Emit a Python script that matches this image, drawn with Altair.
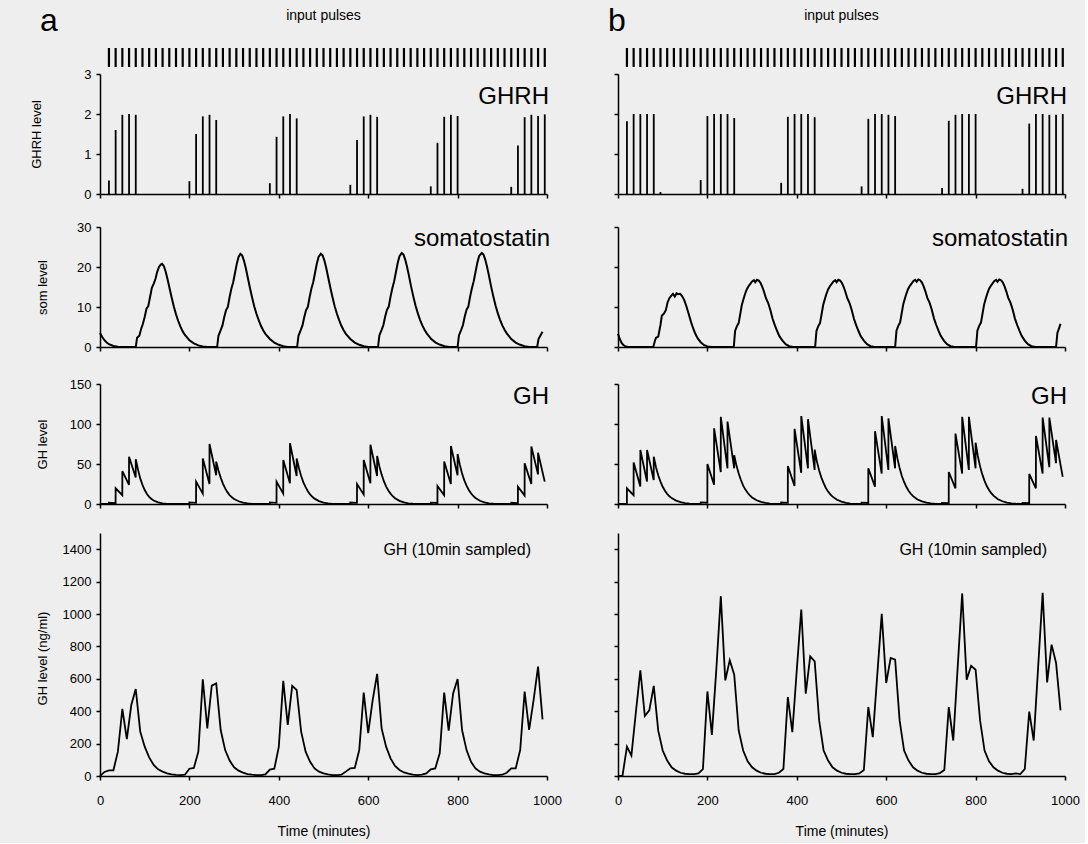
import altair as alt
import pandas as pd

FONT = "Liberation Sans"
W = 447

# ---------------- data ----------------
PULSE_T = [20, 35, 50, 65, 80, 95, 110, 125, 140, 155, 170, 185, 200, 215, 230, 245, 260, 275,
           290, 305, 320, 335, 350, 365, 380, 395, 410, 425, 440, 455, 470, 485, 500, 515, 530,
           545, 560, 575, 590, 605, 620, 635, 650, 665, 680, 695, 710, 725, 740, 755, 770, 785,
           800, 815, 830, 845, 860, 875, 890, 905, 920, 935, 950, 965, 980, 995]

GHRH_A_T = [20, 35, 50, 65, 80, 200, 215, 230, 245, 260, 380, 395, 410, 425, 440,
            560, 575, 590, 605, 620, 740, 755, 770, 785, 800, 920, 935, 950, 965, 980, 995]
GHRH_A_V = [0.34, 1.6, 1.98, 2.0, 1.98, 0.32, 1.5, 1.94, 1.98, 1.85, 0.27, 1.43, 1.94, 2.0, 1.89,
            0.23, 1.35, 1.94, 1.98, 1.93, 0.19, 1.28, 1.93, 1.98, 1.95, 0.18, 1.21, 1.92, 1.98, 1.95, 1.99]

GHRH_B_T = [20, 35, 50, 65, 80, 95, 185, 200, 215, 230, 245, 260, 365, 380, 395, 410, 425, 440,
            545, 560, 575, 590, 605, 620, 725, 740, 755, 770, 785, 800, 905, 920, 935, 950, 965, 980, 995]
GHRH_B_V = [1.82, 2.0, 2.0, 2.0, 2.0, 0.05, 0.35, 1.95, 2.0, 2.0, 2.0, 1.9, 0.28, 1.93, 2.0, 2.0, 2.0, 1.92,
            0.19, 1.88, 2.0, 2.0, 1.98, 1.95, 0.15, 1.83, 1.98, 2.0, 2.0, 2.0, 0.13, 1.76, 2.0, 2.0, 1.98, 1.98, 2.0]

SOM_A = [(0, 3.5), (5, 2.5), (10, 1.7), (15, 1.1), (20, 0.7), (30, 0.25), (40, 0.05), (50, 0), (80, 0),
         (83, 2.3), (88, 2.8), (92, 4.5), (96, 5.8), (100, 7.5), (104, 9.6), (108, 10.2), (112, 12.5),
         (116, 14.8), (120, 15.8), (124, 17.0), (128, 18.8), (132, 20.0), (136, 20.6), (139, 20.8),
         (143, 20.2), (147, 18.8), (151, 17.0), (155, 15.0), (160, 12.5), (165, 10.2), (170, 8.2),
         (175, 6.5), (180, 5.1), (185, 3.9), (190, 3.0), (200, 1.7), (210, 0.9), (220, 0.4), (230, 0.15),
         (240, 0), (262, 0),
         (265, 2.8), (270, 4.2), (274, 5.4), (278, 7.5), (282, 9.2), (286, 10.0), (290, 12.5), (294, 14.6),
         (298, 16.2), (302, 18.5), (306, 20.8), (310, 22.5), (314, 23.3), (318, 22.9), (322, 21.6),
         (326, 19.8), (330, 17.7), (335, 15.0), (340, 12.5), (345, 10.2), (350, 8.3), (355, 6.7),
         (360, 5.3), (365, 4.2), (370, 3.3), (380, 2.0), (390, 1.1), (400, 0.55), (410, 0.2), (420, 0),
         (441, 0),
         (444, 2.8), (449, 4.2), (453, 5.4), (457, 7.5), (461, 9.2), (465, 10.0), (469, 12.5), (473, 14.6),
         (477, 16.2), (481, 18.5), (485, 20.8), (489, 22.5), (494, 23.3), (498, 22.9), (502, 21.6),
         (506, 19.8), (510, 17.7), (515, 15.0), (520, 12.5), (525, 10.2), (530, 8.3), (535, 6.7),
         (540, 5.3), (545, 4.2), (550, 3.3), (560, 2.0), (570, 1.1), (580, 0.55), (590, 0.2), (600, 0),
         (622, 0),
         (625, 2.9), (630, 4.3), (634, 5.5), (638, 7.6), (642, 9.3), (646, 10.1), (650, 12.6), (654, 14.7),
         (658, 16.4), (662, 18.7), (666, 21.0), (670, 22.7), (675, 23.5), (679, 23.1), (683, 21.8),
         (687, 20.0), (691, 17.9), (696, 15.1), (701, 12.6), (706, 10.3), (711, 8.4), (716, 6.8),
         (721, 5.4), (726, 4.3), (731, 3.4), (741, 2.0), (751, 1.1), (761, 0.55), (771, 0.2), (781, 0),
         (800, 0),
         (803, 2.9), (808, 4.3), (812, 5.5), (816, 7.6), (820, 9.3), (824, 10.1), (828, 12.6), (832, 14.7),
         (836, 16.4), (840, 18.7), (844, 21.0), (848, 22.7), (854, 23.5), (858, 23.1), (862, 21.8),
         (866, 20.0), (870, 17.9), (875, 15.1), (880, 12.6), (885, 10.3), (890, 8.4), (895, 6.8),
         (900, 5.4), (905, 4.3), (910, 3.4), (920, 2.0), (930, 1.1), (940, 0.55), (950, 0.2), (960, 0),
         (978, 0), (981, 2.0), (986, 3.0), (990, 3.8)]

SOM_B = [(0, 3.3), (4, 2.0), (8, 1.0), (12, 0.5), (16, 0.2), (22, 0), (79, 0),
         (82, 1.3), (85, 2.3), (90, 2.6), (95, 5.5), (98, 7.8), (103, 8.4), (107, 9.2), (111, 11.2),
         (115, 12.2), (119, 12.8), (123, 13.3), (127, 12.6), (131, 13.4), (135, 13.2), (139, 13.3),
         (143, 12.8), (148, 11.8), (153, 10.2), (158, 8.3), (163, 6.4), (168, 4.7), (173, 3.3),
         (178, 2.2), (185, 1.2), (192, 0.5), (200, 0.15), (210, 0), (259, 0),
         (262, 4.0), (266, 5.2), (270, 6.0), (273, 7.9), (277, 10.5), (280, 11.7), (284, 13.2), (288, 14.4),
         (292, 15.2), (296, 15.8), (300, 16.4), (304, 16.7), (307, 16.2), (311, 16.8), (315, 16.6),
         (319, 16.0), (323, 15.0), (327, 13.7), (331, 12.2), (336, 11.0), (341, 9.2), (346, 7.0),
         (351, 5.4), (356, 4.0), (361, 2.7), (368, 1.6), (375, 0.7), (383, 0.2), (392, 0), (441, 0),
         (444, 4.0), (448, 5.2), (452, 6.0), (455, 7.9), (459, 10.5), (462, 11.7), (466, 13.2), (470, 14.4),
         (474, 15.2), (478, 15.8), (482, 16.4), (486, 16.7), (489, 16.2), (493, 16.8), (497, 16.6),
         (501, 16.0), (505, 15.0), (509, 13.7), (513, 12.2), (518, 11.0), (523, 9.2), (528, 7.0),
         (533, 5.4), (538, 4.0), (543, 2.7), (550, 1.6), (557, 0.7), (565, 0.2), (574, 0), (620, 0),
         (623, 4.1), (627, 5.3), (631, 6.1), (634, 8.0), (638, 10.6), (641, 11.8), (645, 13.3), (649, 14.5),
         (653, 15.3), (657, 15.9), (661, 16.5), (665, 16.8), (668, 16.3), (672, 16.9), (676, 16.7),
         (680, 16.1), (684, 15.1), (688, 13.8), (692, 12.3), (697, 11.1), (702, 9.3), (707, 7.1),
         (712, 5.5), (717, 4.1), (722, 2.8), (729, 1.6), (736, 0.7), (744, 0.2), (753, 0), (801, 0),
         (804, 4.1), (808, 5.3), (812, 6.1), (815, 8.0), (819, 10.6), (822, 11.8), (826, 13.3), (830, 14.5),
         (834, 15.3), (838, 15.9), (842, 16.5), (846, 16.8), (849, 16.3), (853, 16.9), (857, 16.7),
         (861, 16.1), (865, 15.1), (869, 13.8), (873, 12.3), (878, 11.1), (883, 9.3), (888, 7.1),
         (893, 5.5), (898, 4.1), (903, 2.8), (910, 1.6), (917, 0.7), (925, 0.2), (934, 0), (980, 0),
         (983, 3.5), (987, 4.8), (990, 5.8)]

GH_A = [(0, 0), (19.9, 0), (20, 1.5), (34.9, 1.2), (35, 19.6), (49.9, 11), (50, 41), (64.9, 24), (65, 59),
        (79.9, 33), (80, 56), (85, 43), (90, 32), (95, 24), (100, 17.5), (105, 12.5), (110, 9), (115, 6.3),
        (120, 4.4), (130, 2), (140, 0.8), (150, 0.2), (160, 0), (199.9, 0),
        (200, 2.0), (214.9, 1.5), (215, 28), (229.9, 13), (230, 57), (244.9, 25), (245, 75), (259.9, 36),
        (260, 53), (265, 42), (270, 33), (275, 25.5), (280, 19.5), (285, 14.8), (290, 11.2), (295, 8.4),
        (300, 6.3), (310, 3.4), (320, 1.7), (330, 0.7), (340, 0.2), (350, 0), (379.9, 0),
        (380, 2.0), (394.9, 1.5), (395, 28), (409.9, 13), (410, 55), (424.9, 26), (425, 76), (439.9, 35),
        (440, 57), (445, 45), (450, 35), (455, 27), (460, 21), (465, 16), (470, 12), (475, 9), (480, 6.7),
        (490, 3.6), (500, 1.8), (510, 0.8), (520, 0.2), (530, 0), (559.9, 0),
        (560, 1.8), (574.9, 1.4), (575, 25), (589.9, 12), (590, 55), (604.9, 26), (605, 74), (619.9, 35),
        (620, 60), (625, 47), (630, 37), (635, 28.5), (640, 22), (645, 17), (650, 13), (655, 9.7),
        (660, 7.2), (670, 3.9), (680, 2), (690, 0.9), (700, 0.3), (710, 0), (739.9, 0),
        (740, 1.6), (754.9, 1.3), (755, 22.5), (769.9, 11), (770, 53), (784.9, 25), (785, 72.5), (799.9, 36),
        (800, 62.5), (805, 49), (810, 38), (815, 29.5), (820, 23), (825, 17.6), (830, 13.4), (835, 10),
        (840, 7.5), (850, 4), (860, 2), (870, 0.9), (880, 0.3), (890, 0), (919.9, 0),
        (920, 1.5), (934.9, 1.2), (935, 21.7), (949.9, 10.5), (950, 51), (964.9, 25), (965, 72), (979.9, 37),
        (980, 64), (994.9, 28)]

GH_B = [(0, 0), (19.9, 0), (20, 19.6), (34.9, 11), (35, 52), (49.9, 22), (50, 67.5), (64.9, 28), (65, 67.5),
        (79.9, 30), (80, 59), (85, 46), (90, 36), (95, 28), (100, 21.5), (105, 16.5), (110, 12.7),
        (115, 9.7), (120, 7.4), (130, 4.3), (140, 2.3), (150, 1.1), (160, 0.4), (170, 0), (184.9, 0),
        (185, 2.0), (199.9, 1.6), (200, 50), (214.9, 24), (215, 94.6), (229.9, 40), (230, 109), (244.9, 44.6),
        (245, 103), (259.9, 44.6), (260, 61), (265, 48), (270, 38), (275, 30), (280, 23), (285, 18),
        (290, 14), (295, 10.7), (300, 8.2), (310, 4.7), (320, 2.6), (330, 1.3), (340, 0.5), (350, 0),
        (364.9, 0),
        (365, 1.8), (379.9, 1.4), (380, 47.5), (394.9, 22.5), (395, 94), (409.9, 39), (410, 110), (424.9, 44.6),
        (425, 106), (439.9, 42.5), (440, 68), (445, 53), (450, 42), (455, 33), (460, 26), (465, 20),
        (470, 15.5), (475, 12), (480, 9.2), (490, 5.3), (500, 3), (510, 1.5), (520, 0.6), (530, 0),
        (544.9, 0),
        (545, 1.6), (559.9, 1.3), (560, 44.6), (574.9, 21.7), (575, 91), (589.9, 38), (590, 110), (604.9, 42.5),
        (605, 107), (619.9, 44.6), (620, 72.5), (625, 57), (630, 45), (635, 35), (640, 27.5), (645, 21.5),
        (650, 16.5), (655, 12.8), (660, 9.8), (670, 5.6), (680, 3.2), (690, 1.6), (700, 0.7), (710, 0.2),
        (720, 0), (724.9, 0),
        (725, 1.4), (739.9, 1.1), (740, 40), (754.9, 19.6), (755, 88), (769.9, 38), (770, 109), (784.9, 42.5),
        (785, 109), (799.9, 44.6), (800, 76.7), (805, 60), (810, 47), (815, 37), (820, 29), (825, 22.5),
        (830, 17.5), (835, 13.5), (840, 10.4), (850, 6), (860, 3.4), (870, 1.7), (880, 0.8), (890, 0.3),
        (900, 0), (904.9, 0),
        (905, 1.3), (919.9, 1.0), (920, 37.5), (934.9, 19.6), (935, 85), (949.9, 38), (950, 108), (964.9, 46),
        (965, 108), (979.9, 51), (980, 80), (994.9, 34)]

SAMPLE_T = list(range(0, 1000, 10))
SAMP_A = [0, 25, 35, 35, 150, 414, 228, 438, 537, 274,
          181, 115, 68, 41, 27, 16, 10, 7, 6, 8,
          45, 50, 150, 597, 294, 558, 572, 284, 160, 95,
          54, 33, 21, 12, 8, 6, 6, 10, 40, 45,
          180, 587, 315, 556, 531, 274, 150, 88, 47, 27,
          16, 10, 6, 6, 8, 27, 47, 50, 160, 515,
          264, 469, 630, 294, 181, 109, 62, 37, 22, 14,
          9, 6, 8, 16, 41, 47, 140, 515, 280, 510,
          599, 284, 160, 88, 47, 27, 16, 10, 6, 6,
          8, 20, 47, 47, 160, 521, 284, 469, 675, 350]
SAMP_B = [0, 0, 181, 126, 394, 652, 370, 405, 556, 280,
          157, 95, 54, 33, 20, 14, 12, 12, 16, 43,
          522, 254, 660, 1110, 590, 714, 625, 281, 157, 91,
          54, 33, 20, 14, 12, 12, 20, 43, 487, 270,
          656, 1028, 508, 739, 708, 343, 157, 95, 54, 33,
          20, 14, 12, 12, 16, 37, 425, 240, 623, 1001,
          574, 729, 718, 343, 157, 95, 54, 33, 20, 14,
          12, 12, 18, 37, 425, 219, 675, 1127, 595, 680,
          656, 343, 157, 91, 54, 33, 20, 14, 12, 16,
          12, 43, 398, 219, 677, 1131, 578, 811, 698, 405]

XT = [0, 200, 400, 600, 800, 1000]


def xs():
    return alt.Scale(domain=[0, 1000], nice=False, zero=False)


def x_axis(bottom):
    if bottom:
        return alt.Axis(values=XT, title="Time (minutes)", labelPadding=14, titleFontSize=14,
                        titlePadding=17, format="d", labelFlush=False, labelOverlap=False)
    return alt.Axis(values=XT, labels=False, title=None)


def y_axis(vals, title, left, tx, ty):
    if left:
        return alt.Axis(values=vals, title=title, titleX=tx, titleY=ty, format="d")
    return alt.Axis(values=vals, labels=False, title=None)


def label(text, x, y, size, align="right"):
    return alt.Chart(pd.DataFrame({"s": [text]})).mark_text(
        font=FONT, fontSize=size, align=align, baseline="alphabetic", color="black"
    ).encode(x=alt.value(x), y=alt.value(y), text="s:N")


def pulses_panel(letter, ldx):
    rules = alt.Chart(pd.DataFrame({"t": PULSE_T})).mark_rule(color="black", strokeWidth=2.2).encode(
        x=alt.X("t:Q", scale=xs(), axis=None), y=alt.value(0), y2=alt.value(19))
    return alt.layer(rules, label("input pulses", W / 2, -28, 14, "center"),
                     label(letter, ldx, -17, 32, "left")).properties(width=W, height=19)


def ghrh_panel(t, v, left):
    df = pd.DataFrame({"t": t, "v": v})
    rules = alt.Chart(df).mark_rule(color="black", strokeWidth=1.8).encode(
        x=alt.X("t:Q", scale=xs(), axis=x_axis(False)),
        y=alt.Y("v:Q", scale=alt.Scale(domain=[0, 3], nice=False),
                axis=y_axis([0, 1, 2, 3], "GHRH level", left, -57, 60)),
        y2=alt.datum(0))
    return alt.layer(rules, label("GHRH", W + 2, 30, 24)).properties(width=W, height=120)


def line_panel(pairs, dom, vals, title, left, name, nx, ny, nsize, h, bottom, ty, sw=2.0):
    df = pd.DataFrame({"t": [p[0] for p in pairs], "v": [p[1] for p in pairs]})
    line = alt.Chart(df).mark_line(color="black", strokeWidth=sw).encode(
        x=alt.X("t:Q", scale=xs(), axis=x_axis(bottom)),
        y=alt.Y("v:Q", scale=alt.Scale(domain=dom, nice=False),
                axis=y_axis(vals, title, left, -51, ty)))
    return alt.layer(line, label(name, nx, ny, nsize)).properties(width=W, height=h)


def column(left, letter, ldx, ghrh_t, ghrh_v, som, gh, samp, samp_dx):
    p0 = pulses_panel(letter, ldx)
    p1 = ghrh_panel(ghrh_t, ghrh_v, left)
    p2 = line_panel(som, [0, 30], [0, 10, 20, 30], "som level", left, "somatostatin",
                    W + 3, 19, 24, 120, False, 60)
    p3 = line_panel(gh, [0, 150], [0, 50, 100, 150], "GH level", left, "GH",
                    W + 2, 20, 24, 120, False, 60, sw=1.8)
    p4 = line_panel(list(zip(SAMPLE_T, samp)), [0, 1500], list(range(0, 1401, 200)),
                    "GH level (ng/ml)", left, "GH (10min sampled)",
                    W - samp_dx, 22, 16, 243, True, 125, sw=1.8)
    c4 = alt.vconcat(p3, p4, spacing=29, bounds="flush").resolve_scale(x="independent", y="independent")
    c3 = alt.vconcat(p2, c4, spacing=37, bounds="flush").resolve_scale(x="independent", y="independent")
    c2 = alt.vconcat(p1, c3, spacing=33, bounds="flush").resolve_scale(x="independent", y="independent")
    c1 = alt.vconcat(p0, c2, spacing=7, bounds="flush").resolve_scale(x="independent", y="independent")
    return c1


col_a = column(True, "a", -60, GHRH_A_T, GHRH_A_V, SOM_A, GH_A, SAMP_A, 16)
col_b = column(False, "b", -10, GHRH_B_T, GHRH_B_V, SOM_B, GH_B, SAMP_B, 18)

# with flush bounds the nested column counts as zero width, so the gap covers panel a's width too
chart = alt.hconcat(col_a, col_b, spacing=71 + W, bounds="flush").resolve_scale(
    x="independent", y="independent"
).configure(
    background="#eeeeee",
    padding={"left": 30, "top": 5, "right": 5, "bottom": 5},
).configure_view(stroke=None).configure_axis(
    domainColor="black", tickColor="black", labelColor="black", titleColor="black",
    labelFont=FONT, titleFont=FONT, labelFontSize=13, titleFontSize=13,
    titleFontWeight="normal", grid=False, domainWidth=1.5, tickWidth=1.5, tickSize=4,
    labelPadding=5,
)

chart.save("out.html", embed_options={"renderer": "svg", "actions": False})
